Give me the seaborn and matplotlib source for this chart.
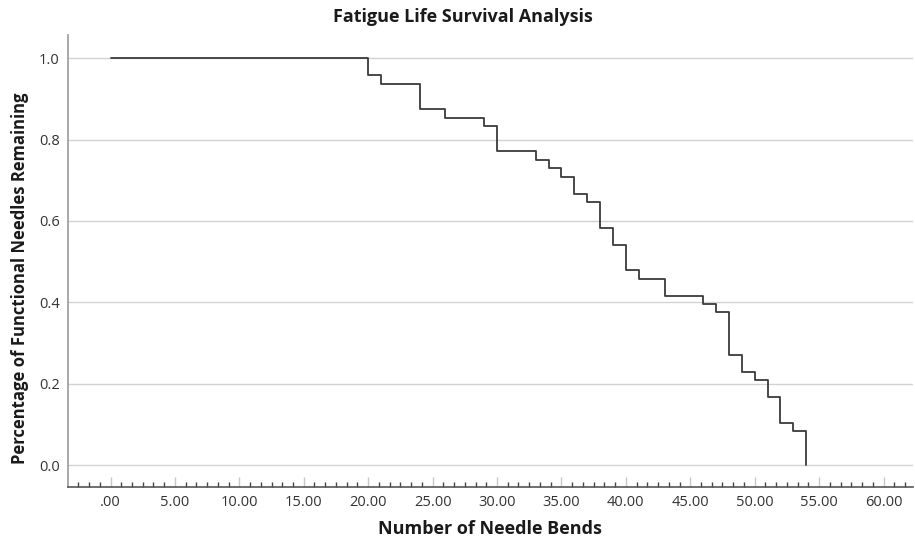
import matplotlib
matplotlib.use("Agg")
import matplotlib.pyplot as plt
import seaborn as sns
import pandas as pd
from matplotlib.ticker import MultipleLocator, FuncFormatter

# bend count at which each drop happens, and needles left out of 48
bend_times = [0, 20, 21, 24, 26, 29, 30, 33, 34, 35, 36, 37, 38, 39,
              40, 41, 43, 46, 47, 48, 49, 50, 51, 52, 53, 54]
needles_left = [48, 46, 45, 42, 41, 40, 37, 36, 35, 34, 32, 31, 28, 26,
                23, 22, 20, 19, 18, 13, 11, 10, 8, 5, 4, 0]
total_needles = 48

x_ticks = [0, 5, 10, 15, 20, 25, 30, 35, 40, 45, 50, 55, 60]
y_ticks = [0.0, 0.2, 0.4, 0.6, 0.8, 1.0]

df = pd.DataFrame({
    "bends": bend_times,
    "survival": [n / total_needles for n in needles_left],
})

sns.set_style("white")
plt.rcParams["font.family"] = ["Open Sans", "DejaVu Sans"]

fig = plt.figure(figsize=(9.15, 5.39), dpi=100)
ax = fig.add_axes([0.0743, 0.0965, 0.9237, 0.8385])

for yv in y_ticks:
    ax.axhline(yv, color="#d2d2d2", lw=1.0, zorder=0)

sns.lineplot(
    data=df,
    x="bends",
    y="survival",
    drawstyle="steps-post",
    color="#3a3a3a",
    lw=1.3,
    estimator=None,
    ax=ax
)

ax.set_xlim(-3.3, 62.3)
ax.set_ylim(-0.054, 1.057)

ax.set_xticks(x_ticks)
ax.xaxis.set_minor_locator(MultipleLocator(5 / 6))
ax.xaxis.set_major_formatter(
    FuncFormatter(lambda v, p: ".00" if abs(v) < 1e-9 else f"{v:.2f}")
)
ax.set_yticks(y_ticks)
ax.yaxis.set_major_formatter(FuncFormatter(lambda v, p: f"{v:.1f}"))

ax.tick_params(axis="x", which="both", bottom=True)
ax.tick_params(axis="x", which="major", direction="in", length=7,
               width=1, color="#c8c8c8", labelsize=10.5,
               labelcolor="#333333", pad=6)
ax.tick_params(axis="x", which="minor", direction="in", length=3.5,
               width=1, color="#444444")
ax.tick_params(axis="y", which="both", length=0, labelsize=10.5,
               labelcolor="#333333", pad=6)

for side in ["top", "right"]:
    ax.spines[side].set_visible(False)
ax.spines["left"].set_color("#999999")
ax.spines["left"].set_linewidth(1.2)
ax.spines["bottom"].set_color("#555555")
ax.spines["bottom"].set_linewidth(1.2)

ax.set_xlabel("Number of Needle Bends", fontsize=13, fontweight="bold",
              color="#1a1a1a", va="center")
ax.xaxis.set_label_coords(0.4994, -0.092)
ax.set_ylabel("Percentage of Functional Needles Remaining", fontsize=12,
              fontweight="bold", color="#1a1a1a", va="center")
ax.yaxis.set_label_coords(-0.057, 0.462)
fig.suptitle("Fatigue Life Survival Analysis", fontsize=13,
             fontweight="bold", color="#1a1a1a", x=0.506, y=0.985)

fig.savefig("out.png", dpi=100)
plt.close(fig)
